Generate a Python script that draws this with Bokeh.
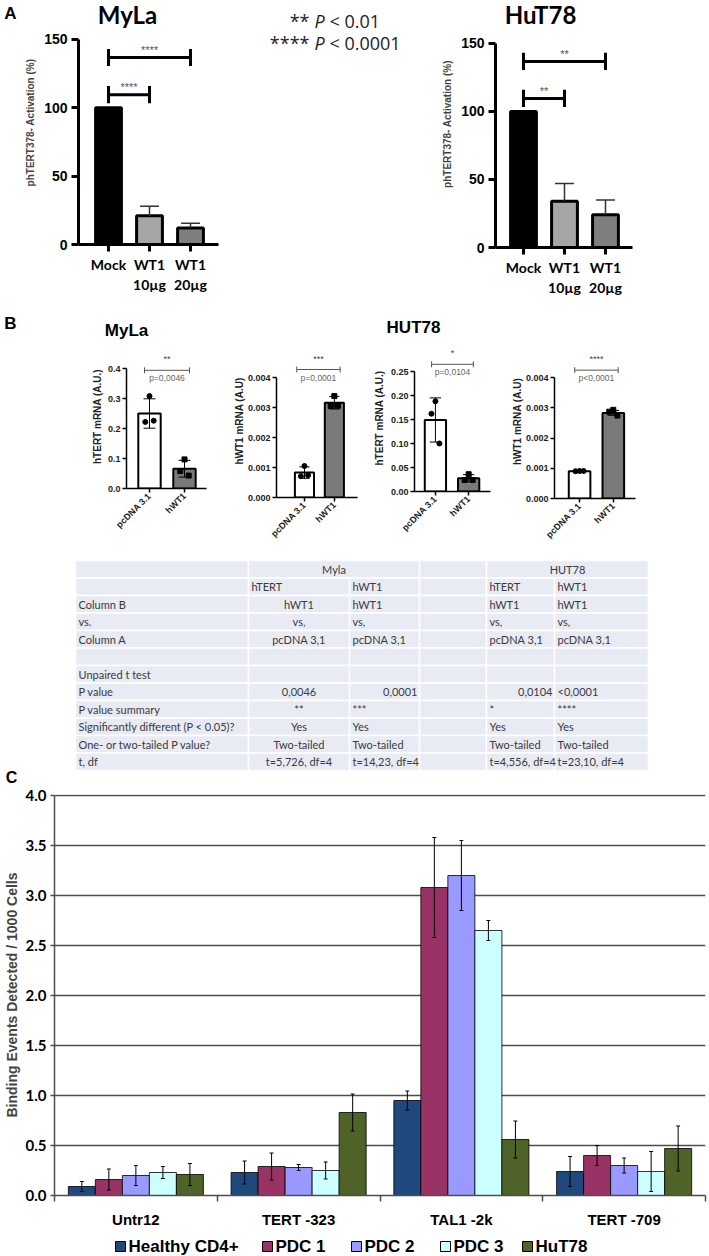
import math
from bokeh.plotting import figure
from bokeh.models import Range1d, FixedTicker, NumeralTickFormatter
from bokeh.layouts import column, row
from bokeh.embed import file_html
from bokeh.resources import INLINE
from bokeh.core.properties import value

# ---------------- data ----------------
# Panel A
a_groups = ["Mock", "WT1\n10µg", "WT1\n20µg"]
a_myla_mean = [100, 21, 12]
a_myla_sd = [0, 7, 3.5]
a_hut_mean = [100, 34, 24]
a_hut_sd = [0, 13, 11]
a_myla_stars = ["****", "****"]
a_hut_stars = ["**", "**"]
a_bracket_levels = [109.6, 136.8]
a_legend_stars = ["**", "****"]
a_legend_p = ["< 0.01", "< 0.0001"]

# Panel B
b_groups = ["pcDNA 3.1", "hWT1"]
b1_mean = [0.25, 0.066]
b1_sd = [0.049, 0.028]
b1_pts_pc = [0.308, 0.222, 0.226]
b1_pts_wt = [0.097, 0.058, 0.043]
b2_mean = [0.00083, 0.00316]
b2_sd = [0.00019, 0.00021]
b2_pts_pc = [0.00105, 0.00071, 0.00074]
b2_pts_wt = [0.00338, 0.00305, 0.00306]
b3_mean = [0.149, 0.0277]
b3_sd = [0.046, 0.0075]
b3_pts_pc = [0.188, 0.162, 0.100]
b3_pts_wt = [0.036, 0.024, 0.024]
b4_mean = [0.00090, 0.00283]
b4_sd = [0.00001, 0.00008]
b4_pts_pc = [0.00091, 0.00090, 0.00091]
b4_pts_wt = [0.00293, 0.00287, 0.00274]
b_pvals = ["p=0,0046", "p=0,0001", "p=0,0104", "p<0,0001"]
b_stars = ["**", "***", "*", "****"]
b_titles = ["MyLa", "HUT78"]

# Table
tbl_header = ["", "Myla", "", "HUT78"]
tbl_rows = [
    ["", "hTERT", "hWT1", "", "hTERT", "hWT1"],
    ["Column B", "hWT1", "hWT1", "", "hWT1", "hWT1"],
    ["vs.", "vs,", "vs,", "", "vs,", "vs,"],
    ["Column A", "pcDNA 3,1", "pcDNA 3,1", "", "pcDNA 3,1", "pcDNA 3,1"],
    ["", "", "", "", "", ""],
    ["Unpaired t test", "", "", "", "", ""],
    ["P value", "0,0046", "0,0001", "", "0,0104", "<0,0001"],
    ["P value summary", "**", "***", "", "*", "****"],
    ["Significantly different (P < 0.05)?", "Yes", "Yes", "", "Yes", "Yes"],
    ["One- or two-tailed P value?", "Two-tailed", "Two-tailed", "", "Two-tailed", "Two-tailed"],
    ["t, df", "t=5,726, df=4", "t=14,23, df=4", "", "t=4,556, df=4", "t=23,10, df=4"],
]

# Panel C
c_sites = ["Untr12", "TERT -323", "TAL1 -2k", "TERT -709"]
c_series = ["Healthy CD4+", "PDC 1", "PDC 2", "PDC 3", "HuT78"]
c_healthy = [0.09, 0.23, 0.95, 0.24]
c_pdc1 = [0.16, 0.29, 3.08, 0.40]
c_pdc2 = [0.20, 0.28, 3.20, 0.30]
c_pdc3 = [0.23, 0.25, 2.65, 0.24]
c_hut = [0.21, 0.83, 0.56, 0.47]
c_healthy_err = [0.05, 0.115, 0.095, 0.15]
c_pdc1_err = [0.105, 0.135, 0.50, 0.10]
c_pdc2_err = [0.10, 0.03, 0.35, 0.075]
c_pdc3_err = [0.06, 0.085, 0.10, 0.20]
c_hut_err = [0.11, 0.185, 0.185, 0.225]
c_colors = ["#1f497d", "#993366", "#9999ff", "#ccffff", "#4f6228"]

ARIAL = "Liberation Sans"
CAL = "Lato"


def base_fig(w, h, xr, yr, lb, rb, tb, bb):
    p = figure(width=w, height=h, x_range=Range1d(*xr), y_range=Range1d(*yr),
               output_backend="svg", toolbar_location=None, title=None,
               min_border_left=lb, min_border_right=rb,
               min_border_top=tb, min_border_bottom=bb)
    p.frame_align = False
    p.outline_line_color = None
    p.grid.visible = False
    return p


def text_fig(w, h):
    p = figure(width=w, height=h, x_range=Range1d(0, w), y_range=Range1d(h, 0),
               x_axis_type=None, y_axis_type=None, output_backend="svg",
               toolbar_location=None, title=None, min_border=0,
               min_border_left=0, min_border_right=0, min_border_top=0,
               min_border_bottom=0)
    p.frame_align = False
    p.outline_line_color = None
    return p


def txt(p, x, y, t, size, font=ARIAL, style="bold", color="black", align="center"):
    p.text(x=[x], y=[y], text=[t], text_align=align, text_baseline="middle",
           text_font=value(font), text_font_size=size, text_font_style=style,
           text_color=color)


# ---------------- Panel A ----------------
def panel_a(w, lb, rb, bb, x0, x1, ytop, means, sds, stars, title, tx, ty):
    p = base_fig(w, 298, (x0, x1), (0, ytop), lb, rb, 0, bb)
    xs = [1, 2, 3]
    p.vbar(x=xs, top=means, width=0.63, fill_color=["black", "#a6a6a6", "#7f7f7f"],
           line_color="black", line_width=3)
    ex = [x for x, s in zip(xs, sds) if s > 0]
    elo = [m for m, s in zip(means, sds) if s > 0]
    ehi = [m + s for m, s in zip(means, sds) if s > 0]
    p.segment(x0=ex, y0=elo, x1=ex, y1=ehi, line_color="#333333", line_width=1.5)
    p.segment(x0=[x - 0.23 for x in ex], y0=ehi, x1=[x + 0.23 for x in ex], y1=ehi,
              line_color="#333333", line_width=1.5)
    ends = [2, 3]
    for lvl, e, st in zip(a_bracket_levels, ends, stars):
        p.segment(x0=[1, 1, e], y0=[lvl, lvl - 6.3, lvl - 6.3], x1=[e, 1, e],
                  y1=[lvl, lvl + 6.3, lvl + 6.3], line_color="black", line_width=3)
        p.text(x=[(1 + e) / 2], y=[lvl + 5.5], text=[st], text_align="center",
               text_baseline="middle", text_font=value(ARIAL), text_font_size="11px",
               text_color="#555555")
    txt(p, tx, ty, title, "24px", font=CAL)
    ax = p.xaxis[0]
    ax.ticker = FixedTicker(ticks=xs)
    ax.major_label_overrides = {1: a_groups[0], 2: a_groups[1], 3: a_groups[2]}
    ax.major_label_text_font = CAL
    ax.major_label_text_font_style = "bold"
    ax.major_label_text_font_size = "14px"
    ax.major_label_text_color = "black"
    ax.major_label_standoff = 4
    ay = p.yaxis[0]
    ay.ticker = FixedTicker(ticks=[0, 50, 100, 150])
    ay.bounds = (0, 150)
    ay.major_label_text_font = ARIAL
    ay.major_label_text_font_style = "bold"
    ay.major_label_text_font_size = "14px"
    ay.major_label_text_color = "black"
    ay.major_label_standoff = 4
    ay.axis_label = "phTERT378- Activation (%)"
    ay.axis_label_text_font = ARIAL
    ay.axis_label_text_font_style = "bold"
    ay.axis_label_text_font_size = "10px"
    ay.axis_label_standoff = 5
    for a in (ax, ay):
        a.axis_line_width = 3
        a.major_tick_line_width = 3
        a.major_tick_out = 7
        a.major_tick_in = 0
        a.minor_tick_out = 0
        a.minor_tick_in = 0
    return p


pAL = text_fig(22, 298)
txt(pAL, 10, 13, "A", "17px")
pA1 = panel_a(216, 56, 20, 54, 0.268, 3.683, 178.5, a_myla_mean, a_myla_sd,
              a_myla_stars, "MyLa", 1.463, 168.3)
pMid = text_fig(182, 298)
pMid.text(x=[71, 71], y=[20, 42], text=a_legend_stars, text_align="right",
          text_baseline="middle", text_font=value("Open Sans"), text_font_size="18px",
          text_color="#222222")
pMid.text(x=[76, 76], y=[20, 42], text=["P", "P"], text_align="left",
          text_baseline="middle", text_font=value("Open Sans"), text_font_size="18px",
          text_font_style="italic", text_color="#222222")
pMid.text(x=[91, 91], y=[20, 42], text=a_legend_p, text_align="left",
          text_baseline="middle", text_font=value("Open Sans"), text_font_size="18px",
          text_color="#222222")
pA2 = panel_a(289, 75, 77, 51, 0.317, 3.659, 181.6, a_hut_mean, a_hut_sd,
              a_hut_stars, "HuT78", 1.415, 171.3)

# ---------------- Panel B ----------------
pBH = text_fig(709, 46)
txt(pBH, 10, 25, "B", "17px")
txt(pBH, 126, 32, b_titles[0], "17px")
txt(pBH, 413, 29, b_titles[1], "17px")


def panel_b(w, lb, rb, bb, xr, yr, ytop, yticks, fmt, ylabel, lab_st, means, sds,
            pts_pc, pts_wt, br, star, ptxt, pxu):
    p = base_fig(w, 216, xr, yr, lb, rb, 0, bb)
    p.vbar(x=[1, 2], top=means, width=0.64, fill_color=["white", "#7a7a7a"],
           line_color="black", line_width=2)
    lo = [m - s for m, s in zip(means, sds)]
    hi = [m + s for m, s in zip(means, sds)]
    p.segment(x0=[1, 2], y0=lo, x1=[1, 2], y1=hi, line_color="black", line_width=1)
    p.segment(x0=[0.83, 1.83, 0.83, 1.83], y0=lo + hi, x1=[1.17, 2.17, 1.17, 2.17],
              y1=lo + hi, line_color="black", line_width=1)
    offs = [0.0, -0.12, 0.12]
    p.scatter(x=[1 + o for o in offs], y=pts_pc, size=5, color="black", marker="circle")
    p.scatter(x=[2 + o for o in offs], y=pts_wt, size=5, color="black", marker="square")
    xa, xb, yb = br
    t = 3.0 / pxu
    p.segment(x0=[xa, xa, xb], y0=[yb, yb - t, yb - t], x1=[xb, xa, xb], y1=[yb, yb + t, yb + t],
              line_color="#555555", line_width=1)
    p.text(x=[(xa + xb) / 2], y=[yb + 11.0 / pxu], text=[star], text_align="center",
           text_baseline="middle", text_font=value(ARIAL), text_font_size="9px",
           text_color="#444444")
    p.text(x=[(xa + xb) / 2], y=[yb - 8.0 / pxu], text=[ptxt], text_align="center",
           text_baseline="middle", text_font=value(ARIAL), text_font_size="8.5px",
           text_color="#666666")
    ax = p.xaxis[0]
    ax.ticker = FixedTicker(ticks=[1, 2])
    ax.major_label_overrides = {1: b_groups[0], 2: b_groups[1]}
    ax.major_label_orientation = math.pi / 4
    ax.major_label_text_font = ARIAL
    ax.major_label_text_font_style = "bold"
    ax.major_label_text_font_size = "9px"
    ax.major_label_text_color = "#222222"
    ax.major_label_standoff = 2
    ay = p.yaxis[0]
    ay.ticker = FixedTicker(ticks=yticks)
    ay.bounds = (0, ytop)
    ay.formatter = NumeralTickFormatter(format=fmt)
    ay.major_label_text_font = ARIAL
    ay.major_label_text_font_style = "bold"
    ay.major_label_text_font_size = "9px"
    ay.major_label_text_color = "#222222"
    ay.major_label_standoff = 2
    ay.axis_label = ylabel
    ay.axis_label_text_font = ARIAL
    ay.axis_label_text_font_style = "bold"
    ay.axis_label_text_font_size = "10px"
    ay.axis_label_text_color = "#222222"
    ay.axis_label_standoff = lab_st
    for a in (ax, ay):
        a.axis_line_width = 1.5
        a.major_tick_line_width = 1.5
        a.major_tick_out = 4
        a.major_tick_in = 0
        a.minor_tick_out = 0
        a.minor_tick_in = 0
    return p


pB1 = panel_b(230, 126, 24, 72, (0.343, 2.629), (0, 0.48), 0.4,
              [0, 0.1, 0.2, 0.3, 0.4], "0.0", "hTERT mRNA (A.U.)", 2,
              b1_mean, b1_sd, b1_pts_pc, b1_pts_wt, (0.857, 2.143, 0.394),
              b_stars[0], b_pvals[0], 300.0)
pB2 = panel_b(140, 43, 13, 63, (0.0645, 2.774), (0, 0.0051), 0.004,
              [0, 0.001, 0.002, 0.003, 0.004], "0.000", "hWT1 mRNA (A.U)", 0,
              b2_mean, b2_sd, b2_pts_pc, b2_pts_wt, (0.742, 2.193, 0.004266),
              b_stars[1], b_pvals[1], 30000.0)
pB3 = panel_b(138, 40, 18, 69, (0.371, 2.657), (0, 0.30625), 0.25,
              [0, 0.05, 0.10, 0.15, 0.20, 0.25], "0.00", "hTERT mRNA (A.U.)", 3,
              b3_mean, b3_sd, b3_pts_pc, b3_pts_wt, (0.885, 2.142, 0.265),
              b_stars[2], b_pvals[2], 480.0)
pB4 = panel_b(201, 43, 74, 62, (0.257, 2.657), (0, 0.005091), 0.004,
              [0, 0.001, 0.002, 0.003, 0.004], "0.000", "hWT1 mRNA (A.U)", 0,
              b4_mean, b4_sd, b4_pts_pc, b4_pts_wt, (0.857, 2.143, 0.004243),
              b_stars[3], b_pvals[3], 30250.0)

# ---------------- Table (plus the "C" panel letter below it) ----------------
TH = 226
RH = 17.5
cols = [75, 248, 349, 419, 486, 554, 648]
pT = text_fig(709, TH)
ql, qr, qt, qb = [], [], [], []
hdr_edges = [(cols[0], cols[1]), (cols[1], cols[3]), (cols[3], cols[4]), (cols[4], cols[6])]
for (l, r) in hdr_edges:
    ql.append(l); qr.append(r); qt.append(0); qb.append(RH)
for i in range(len(tbl_rows)):
    for c in range(6):
        ql.append(cols[c]); qr.append(cols[c + 1])
        qt.append((i + 1) * RH); qb.append((i + 2) * RH)
pT.quad(left=ql, right=qr, top=qt, bottom=qb, fill_color="#e8ebf4", line_color="white",
        line_width=1.5)
tx, ty, tt, ta = [], [], [], []
for (l, r), s in zip(hdr_edges, tbl_header):
    if s:
        tx.append((l + r) / 2); ty.append(RH / 2); tt.append(s); ta.append("center")
for i, rw in enumerate(tbl_rows):
    yc = (i + 1) * RH + RH / 2
    for c, s in enumerate(rw):
        if not s:
            continue
        if c == 1 and i != 0:
            al = "center"
        elif c in (2, 4) and rw[0] == "P value":
            al = "right"
        else:
            al = "left"
        if al == "center":
            x = (cols[c] + cols[c + 1]) / 2
        elif al == "right":
            x = cols[c + 1] - 2
        else:
            x = cols[c] + 3
        tx.append(x); ty.append(yc); tt.append(s); ta.append(al)
pT.text(x=tx, y=ty, text=tt, text_align=ta, text_baseline="middle",
        text_font=value(CAL), text_font_size="11px", text_color="#3a3a3a")
txt(pT, 11, 216.5, "C", "16px")

# ---------------- Panel C ----------------
pC = base_fig(709, 444, (0, 4), (0, 4.01), 53, 4, 8, 35)
offs = [-0.332, -0.166, 0.0, 0.166, 0.332]
series_vals = [c_healthy, c_pdc1, c_pdc2, c_pdc3, c_hut]
series_errs = [c_healthy_err, c_pdc1_err, c_pdc2_err, c_pdc3_err, c_hut_err]
for k in range(5):
    xs = [i + 0.5 + offs[k] for i in range(len(c_sites))]
    vals = series_vals[k]
    errs = series_errs[k]
    pC.vbar(x=xs, top=vals, width=0.166, fill_color=c_colors[k], line_color="black",
            line_width=0.8)
    lo = [v - e for v, e in zip(vals, errs)]
    hi = [v + e for v, e in zip(vals, errs)]
    pC.segment(x0=xs, y0=lo, x1=xs, y1=hi, line_color="black", line_width=1)
    pC.segment(x0=[x - 0.012 for x in xs] * 2, y0=lo + hi, x1=[x + 0.012 for x in xs] * 2,
               y1=lo + hi, line_color="black", line_width=1)
pC.ygrid.visible = True
pC.ygrid.ticker = FixedTicker(ticks=[0, 0.5, 1, 1.5, 2, 2.5, 3, 3.5, 4])
pC.ygrid.grid_line_color = "#4d4d4d"
pC.ygrid.grid_line_width = 1.5
cx = pC.xaxis[0]
cx.ticker = FixedTicker(ticks=[0.5, 1.5, 2.5, 3.5], minor_ticks=[0, 1, 2, 3, 4])
cx.major_label_overrides = {0.5: c_sites[0], 1.5: c_sites[1], 2.5: c_sites[2], 3.5: c_sites[3]}
cx.major_tick_out = 0
cx.major_tick_in = 0
cx.minor_tick_out = 6
cx.minor_tick_in = 0
cx.minor_tick_line_color = "#4d4d4d"
cx.minor_tick_line_width = 1.5
cx.major_label_standoff = 9
cx.major_label_text_font = ARIAL
cx.major_label_text_font_style = "bold"
cx.major_label_text_font_size = "15px"
cx.major_label_text_color = "black"
cy = pC.yaxis[0]
cy.ticker = FixedTicker(ticks=[0, 0.5, 1, 1.5, 2, 2.5, 3, 3.5, 4])
cy.bounds = (0, 4)
cy.formatter = NumeralTickFormatter(format="0.0")
cy.major_tick_out = 4
cy.major_tick_in = 0
cy.minor_tick_out = 0
cy.minor_tick_in = 0
cy.major_label_standoff = 4
cy.major_label_text_font = CAL
cy.major_label_text_font_style = "bold"
cy.major_label_text_font_size = "15px"
cy.major_label_text_color = "black"
cy.axis_label = "Binding Events Detected / 1000 Cells"
cy.axis_label_text_font = ARIAL
cy.axis_label_text_font_style = "bold"
cy.axis_label_text_font_size = "14px"
cy.axis_label_standoff = 3
for a in (cx, cy):
    a.axis_line_color = "#4d4d4d"
    a.axis_line_width = 1.5
    a.major_tick_line_color = "#4d4d4d"
    a.major_tick_line_width = 1.5

# legend strip (drawn in its own pixel-space figure)
pCL = text_fig(709, 26)
leg_sq_x = [120, 267, 356, 445, 527]
pCL.rect(x=leg_sq_x, y=[16] * 5, width=10, height=10, fill_color=c_colors,
         line_color="black", line_width=1)
pCL.text(x=[x + 8 for x in leg_sq_x], y=[16] * 5, text=c_series, text_align="left",
         text_baseline="middle", text_font=value(ARIAL), text_font_size="17px",
         text_font_style="bold", text_color="black")

layout = column(row(pAL, pA1, pMid, pA2), pBH, row(pB1, pB2, pB3, pB4), pT, pC, pCL)
open("out.html", "w").write(file_html(layout, INLINE))
